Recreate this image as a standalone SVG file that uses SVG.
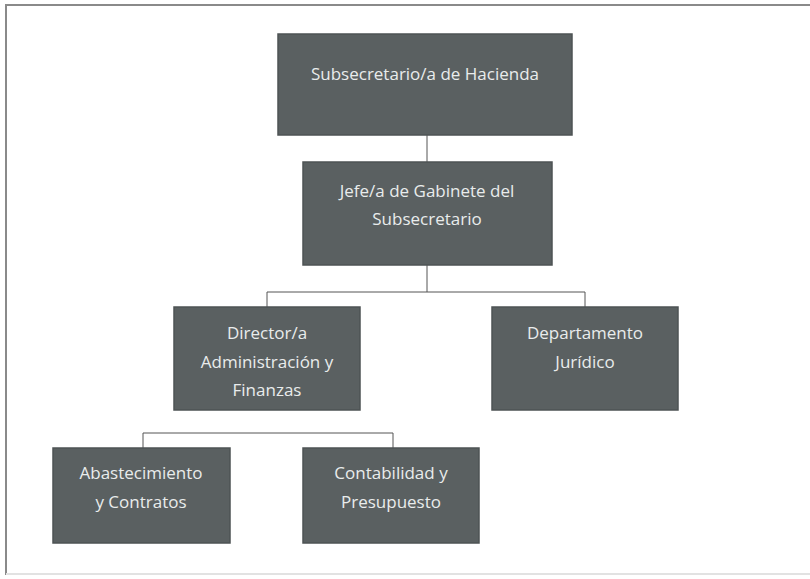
<svg xmlns="http://www.w3.org/2000/svg" width="810" height="579" viewBox="0 0 810 579">
<style>
.box{fill:#5a6061;stroke:#4e5354;stroke-width:1.5}
.t{font-family:"Open Sans","Liberation Sans",sans-serif;font-size:17px;fill:#e9ecec;text-anchor:middle}
.c{stroke:#555;stroke-width:1;fill:none}
</style>
<rect x="0" y="0" width="810" height="579" fill="#ffffff"/>
<path d="M6 575 V5 H810" fill="none" stroke="#8a8a8a" stroke-width="2"/>
<path d="M6 574 H810" fill="none" stroke="#e2e2e2" stroke-width="2"/>
<g id="connectors">
<path class="c" d="M427 135 V162"/>
<path class="c" d="M427 265 V292 M267 292 H585 M267 292 V307 M585 292 V307"/>
<path class="c" d="M143 433 H393 M143 433 V448 M393 433 V448"/>
</g>
<g id="n1"><rect class="box" x="278" y="34" width="294" height="101"/><text class="t" x="425" y="80">Subsecretario/a de Hacienda</text></g>
<g id="n2"><rect class="box" x="303" y="162" width="249" height="103"/><text class="t" x="427" y="197">Jefe/a de Gabinete del</text><text class="t" x="427" y="225">Subsecretario</text></g>
<g id="n3"><rect class="box" x="174" y="307" width="186" height="103"/><text class="t" x="267" y="339">Director/a</text><text class="t" x="267" y="368">Administración y</text><text class="t" x="267" y="396">Finanzas</text></g>
<g id="n4"><rect class="box" x="492" y="307" width="186" height="103"/><text class="t" x="585" y="339">Departamento</text><text class="t" x="585" y="368">Jurídico</text></g>
<g id="n5"><rect class="box" x="53" y="448" width="177" height="95"/><text class="t" x="141" y="479">Abastecimiento</text><text class="t" x="141" y="508">y Contratos</text></g>
<g id="n6"><rect class="box" x="303" y="448" width="176" height="95"/><text class="t" x="391" y="479">Contabilidad y</text><text class="t" x="391" y="508">Presupuesto</text></g>
</svg>
